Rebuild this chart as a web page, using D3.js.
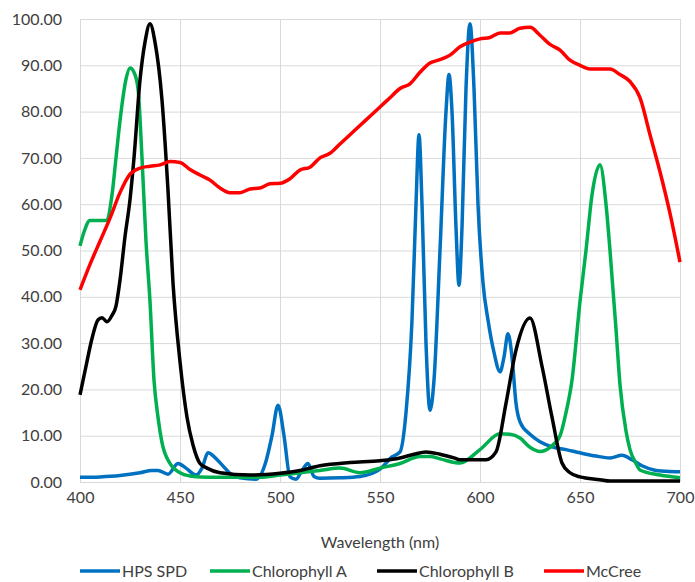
<!DOCTYPE html>
<html>
<head>
<meta charset="utf-8">
<script src="https://cdn.jsdelivr.net/npm/d3@7"></script>
<style>
  body { margin: 0; background: #fff; }
  text { font-family: Lato, "Open Sans", sans-serif; fill: #404040; }
  .grid line { stroke: #d9d9d9; stroke-width: 1; }
  .grid .domain { display: none; }
</style>
</head>
<body>
<div id="main"></div>
<script>
// data (wavelength nm, relative value)
const hpsWl  = [400,410,420,430,436,439,444,449,453,458,461,464,467,471,476,480,488,493,496,499,502,505,508,511,514,517,520,530,540,550,556,560,563,566,568,569.5,571,573,575,577,580,583,584.5,586,588,589.5,591,593,595,597,599,601.5,604,607,610,612,614,616,618,620,625,630,636,643,650,658,665,671,676,681,687,693,700];
const hpsVal = [1,1.1,1.4,2,2.5,2.5,1.7,4,3,1.5,3,6.3,5.5,3.7,1.5,0.9,0.6,4.5,10,16.6,10,1.1,0.6,2.5,4,1.2,0.8,0.9,1.2,2.8,5.4,6.5,15,35,60,75,60,30,15.5,22,50,80,88,80,55,42.5,55,85,99,85,60,43,35,28,23.8,27,32,27,17,13,10.3,8.7,7.6,7,6.3,5.6,5.2,5.8,4.8,3.5,2.6,2.3,2.2];

const chlAWl  = [400,402,405,410,413,416,418,420,423,425,427,429,431,433,435,437,439,441,445,450,455,460,470,480,490,500,510,520,530,540,550,560,570,575,580,590,600,610,615,620,625,630,635,640,643,646,650,653,656,660,663,665,668,670,673,675,678,680,690,700];
const chlAVal = [51,54,56.5,56.5,56.5,62,70,78,87,89.4,88.5,85,70,52,39,22,14,8.5,4,2,1.3,1.1,1,1,1,1.5,2,2.5,3,2,3,4,5.5,5.5,5,4.1,7,10.4,10.3,9.5,7.5,6.6,7.5,10,15,22,39,50,62,68.5,60,50,33,21,11,7,4,2.6,1.5,0.9];

const chlBWl  = [400,403,406,409,411,413.5,416,418,420,422.5,425,427,430,432.5,435,437.5,441,444,446.5,450,453.5,456.5,460,463.5,470,485,500,510,520,535,550,560,567,573,580,587,590,603,608,613,618,625,631,636,641,645,650,660,665,700];
const chlBVal = [18.8,25,31,35,35.5,34.6,36,38,43.6,53,61,70,86.8,95,99,95,82.5,63,43,26,14,8,4,3,2,1.5,1.9,2.5,3.5,4.2,4.6,5.2,6,6.5,6,5.2,4.8,4.8,6.5,17,28.5,35.4,25,14,4.1,2,1.1,0.5,0.2,0.2];

const mcWl  = [400,405,410,415,420,425,430,435,440,445,450,455,460,465,470,475,480,485,490,495,500,505,510,515,520,525,530,535,540,545,550,555,560,565,570,575,580,585,590,595,600,605,610,615,620,625,630,635,640,645,650,655,660,665,670,675,680,685,690,695,700];
const mcVal = [41.5,47,52,57,62.5,66.5,67.8,68.2,68.5,69.2,69,67.5,66.3,65.2,63.5,62.5,62.5,63.3,63.5,64.4,64.5,65.5,67.4,68,70,71,73,75,77,79,81,83,85,86,88.5,90.5,91.2,92.2,94,95,95.7,96,97,97,98,98.2,96.5,94.5,93.3,91.1,90,89.2,89.2,89.2,88,86.5,83,75,67,58,47.5];

const seriesNames  = ["HPS SPD", "Chlorophyll A", "Chlorophyll B", "McCree"];
const seriesColors = ["#0070C0", "#00B050", "#000000", "#FF0000"];
const yTicks = [0,10,20,30,40,50,60,70,80,90,100];
const xTicks = [400,450,500,550,600,650,700];

const width = 695;
const height = 582;
const margin = {top: 19, right: 15, bottom: 100, left: 80};
const plotW = width - margin.left - margin.right;
const plotH = height - margin.top - margin.bottom;

const svg = d3.select('#main')
              .append('svg')
              .attr('width', width)
              .attr('height', height);

const g = svg.append('g')
             .attr('transform', 'translate(' + margin.left + ',' + margin.top + ')');

const xScale = d3.scaleLinear().domain([400, 700]).range([0, plotW]);
const yScale = d3.scaleLinear().domain([0, 100]).range([plotH, 0]);

//gridlines + y labels
const yAxis = d3.axisLeft(yScale)
                .tickValues(yTicks)
                .tickSize(-plotW)
                .tickPadding(18)
                .tickFormat(d3.format('.2f'));
g.append('g').attr('class', 'grid').call(yAxis)
  .selectAll('text').style('font-size', '16px');

const xAxis = d3.axisBottom(xScale)
                .tickValues(xTicks)
                .tickSize(-plotH)
                .tickPadding(10)
                .tickFormat(d3.format('d'));
g.append('g').attr('class', 'grid')
  .attr('transform', 'translate(0,' + plotH + ')')
  .call(xAxis)
  .selectAll('text').style('font-size', '16px');

//lines
const series = [
  {wl: hpsWl, val: hpsVal},
  {wl: chlAWl, val: chlAVal},
  {wl: chlBWl, val: chlBVal},
  {wl: mcWl, val: mcVal}
];

const line = d3.line()
  .x(d => xScale(d[0]))
  .y(d => yScale(d[1]))
  .curve(d3.curveMonotoneX);

series.forEach(function(s, i) {
  const pts = s.wl.map((w, j) => [w, s.val[j]]);
  g.append('path')
    .datum(pts)
    .attr('fill', 'none')
    .attr('stroke', seriesColors[i])
    .attr('stroke-width', 3.5)
    .attr('stroke-linejoin', 'round')
    .attr('d', line);
});

//axis title
svg.append('text')
  .attr('x', margin.left + plotW / 2)
  .attr('y', 548)
  .attr('text-anchor', 'middle')
  .style('font-size', '16px')
  .text('Wavelength (nm)');

//legend
const legendX = [80, 210, 377, 544];
const legend = svg.append('g').attr('transform', 'translate(0,571)');
seriesNames.forEach(function(name, i) {
  legend.append('line')
    .attr('x1', legendX[i]).attr('x2', legendX[i] + 40)
    .attr('y1', 0).attr('y2', 0)
    .attr('stroke', seriesColors[i])
    .attr('stroke-width', 3.5);
  legend.append('text')
    .attr('x', legendX[i] + 42)
    .attr('y', 6)
    .style('font-size', '16px')
    .text(name);
});
</script>
</body>
</html>
